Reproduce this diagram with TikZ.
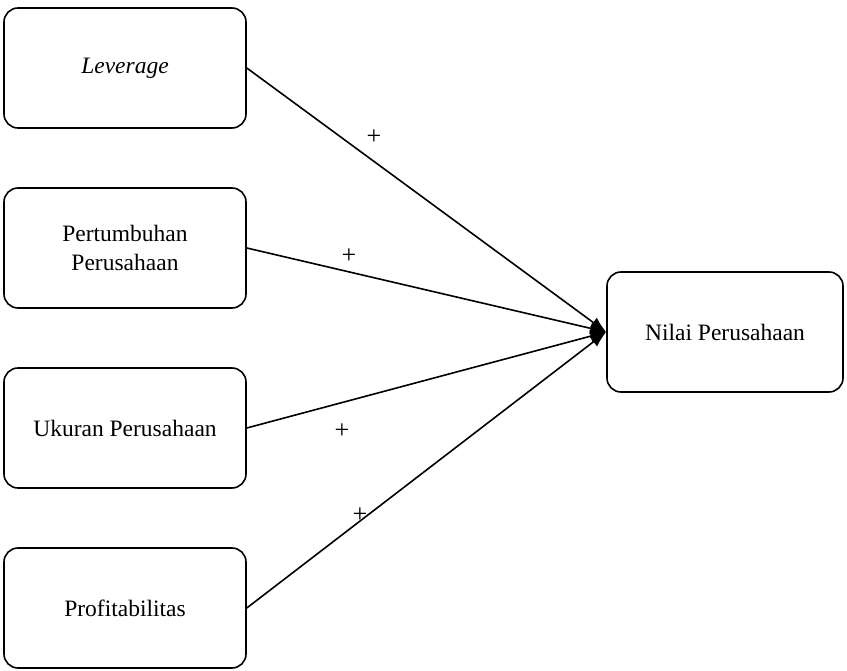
\documentclass[tikz,border=0pt]{standalone}
\usepackage{fontspec}
\setmainfont{Liberation Serif}
\usetikzlibrary{arrows.meta}

\begin{document}
\begin{tikzpicture}[x=1pt, y=-1pt,
        varbox/.style={draw, line width=1.6pt, rounded corners=14pt, minimum width=242pt, minimum height=120pt, align=center, font=\fontsize{23.5}{29}\selectfont},
        link/.style={line width=1.6pt, -{Latex[length=16pt,width=12pt]}},
        sign/.style={font=\fontsize{26}{30}\selectfont}]
        \useasboundingbox (0,0) rectangle (847,671);

        % Variables
        \node[varbox] (lev) at (125,68) {\textit{Leverage}};
        \node[varbox] (growth) at (125,248) {Pertumbuhan\\Perusahaan};
        \node[varbox] (size) at (125,428) {Ukuran Perusahaan};
        \node[varbox] (prof) at (125,608) {Profitabilitas};

        \node[varbox, minimum width=236pt] (value) at (725,332) {Nilai Perusahaan};

        % Hypotheses
        \draw[link] (lev.east) -- (value.west);
        \draw[link] (growth.east) -- (value.west);
        \draw[link] (size.east) -- (value.west);
        \draw[link] (prof.east) -- (value.west);

        \node[sign] (h1) at (374,137) {+};
        \node[sign] (h2) at (349,256) {+};
        \node[sign] (h3) at (342,431) {+};
        \node[sign] (h4) at (360,515) {+};
    \end{tikzpicture}
\end{document}
